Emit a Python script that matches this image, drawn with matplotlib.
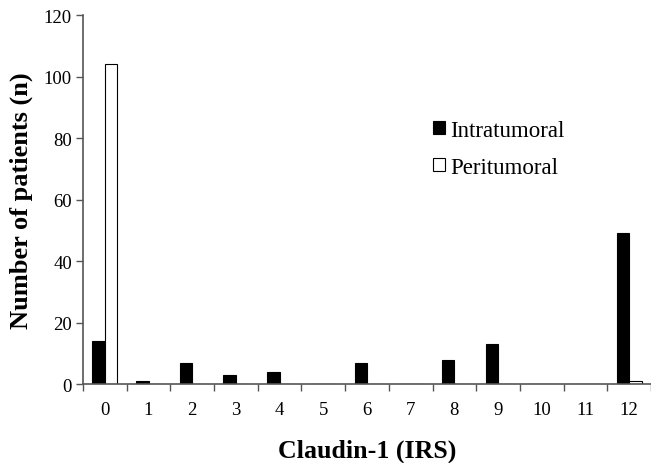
import matplotlib
matplotlib.use("Agg")
import matplotlib.pyplot as plt
import numpy as np
from matplotlib.ticker import FixedLocator

categories = ["0", "1", "2", "3", "4", "5", "6", "7", "8", "9", "10", "11", "12"]
intratumoral = [14, 1, 7, 3, 4, 0, 7, 0, 8, 13, 0, 0, 49]
peritumoral = [104, 0, 0, 0, 0, 0, 0, 0, 0, 0, 0, 0, 1]
yticks = [0, 20, 40, 60, 80, 100, 120]

plt.rcParams['font.family'] = ['Liberation Serif', 'DejaVu Serif']

fig = plt.figure(figsize=(6.51, 4.64), dpi=100)
ax = fig.add_axes([0.1275, 0.170, 0.8725, 0.795])

x = np.arange(len(categories))
w = 0.285
ax.bar(x - w/2, intratumoral, w, color='black', edgecolor='black', linewidth=0.8, label='Intratumoral')
ax.bar(x + w/2, peritumoral, w, color='white', edgecolor='black', linewidth=0.8, label='Peritumoral')

ax.set_xlim(-0.5, len(categories) - 0.5)
ax.set_ylim(0, 120)
ax.set_yticks(yticks)
ax.set_xticks(x)
ax.set_xticklabels(categories, fontsize=13.5)
ax.tick_params(axis='x', which='major', length=0, pad=12)
ax.xaxis.set_minor_locator(FixedLocator(np.arange(-0.5, len(categories), 1.0)))
ax.tick_params(axis='x', which='minor', length=5, direction='out', color='#555555', width=1)
ax.tick_params(axis='y', length=5, direction='out', color='#555555', width=1, labelsize=13.5, pad=3)

for s in ['top', 'right']:
    ax.spines[s].set_visible(False)
for s in ['left', 'bottom']:
    ax.spines[s].set_color('#555555')
    ax.spines[s].set_linewidth(1.2)

ax.set_xlabel('Claudin-1 (IRS)', fontsize=18.6, fontweight='bold', labelpad=15)
ax.set_ylabel('Number of patients (n)', fontsize=19, fontweight='bold', labelpad=8)

leg = ax.legend(loc='upper left', bbox_to_anchor=(0.58, 0.772), frameon=False, fontsize=16.5,
                handlelength=0.5, handleheight=0.5, handletextpad=0.25, labelspacing=0.7,
                borderpad=0.4)

fig.savefig('out.png', dpi=100)
